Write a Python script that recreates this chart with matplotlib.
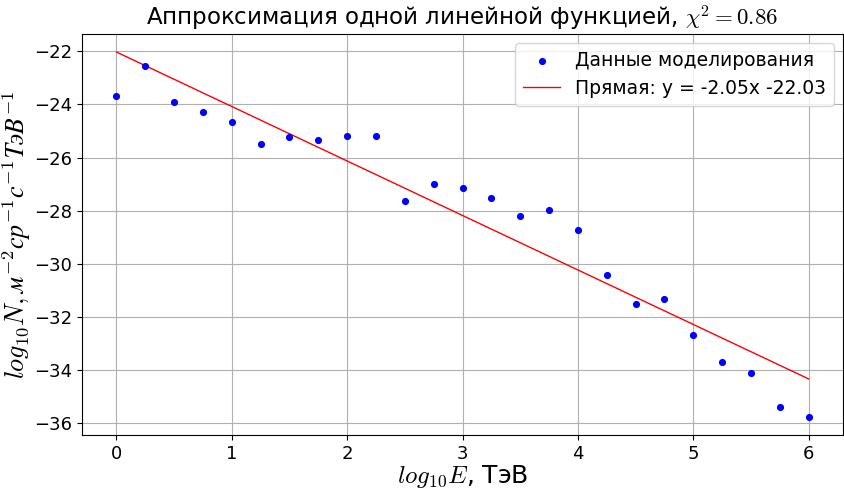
import numpy as np
import matplotlib
matplotlib.use("Agg")
import matplotlib.pyplot as plt

plt.rcParams['mathtext.fontset'] = 'cm'

# log10 of energy, TeV
log_e = [0.0, 0.25, 0.5, 0.75, 1.0, 1.25, 1.5, 1.75, 2.0, 2.25, 2.5, 2.75,
         3.0, 3.25, 3.5, 3.75, 4.0, 4.25, 4.5, 4.75, 5.0, 5.25, 5.5, 5.75, 6.0]
# log10 of simulated flux
log_n = [-23.68, -22.56, -23.91, -24.28, -24.68, -25.50, -25.21, -25.34,
         -25.18, -25.20, -27.65, -26.99, -27.13, -27.52, -28.19, -27.99,
         -28.71, -30.41, -31.50, -31.33, -32.66, -33.68, -34.12, -35.40, -35.76]

slope = -2.05
intercept = -22.03
chi2 = 0.86

fig = plt.figure(figsize=(8.44, 4.9), dpi=100)
ax = fig.add_axes([0.097, 0.112, 0.902, 0.819])

ax.scatter(log_e, log_n, s=17, color='blue', label='Данные моделирования', zorder=3)
fit_x = np.array([log_e[0], log_e[-1]])
ax.plot(fit_x, slope * fit_x + intercept, color='red', lw=1,
        label=f'Прямая: y = {slope}x {intercept}')

ax.grid(True)
ax.tick_params(labelsize=13)
ax.set_title(f'Аппроксимация одной линейной функцией, $\\chi^2 = {chi2}$', fontsize=16.5)
ax.set_xlabel(r'$log_{10}E$, ТэВ', fontsize=18, labelpad=0)
ax.set_ylabel(r'$log_{10}N, м^{-2} ср^{-1} с^{-1} ТэВ^{-1}$', fontsize=19, labelpad=1)
ax.legend(fontsize=13.5, loc='upper right')

fig.savefig('out.png', dpi=100)
